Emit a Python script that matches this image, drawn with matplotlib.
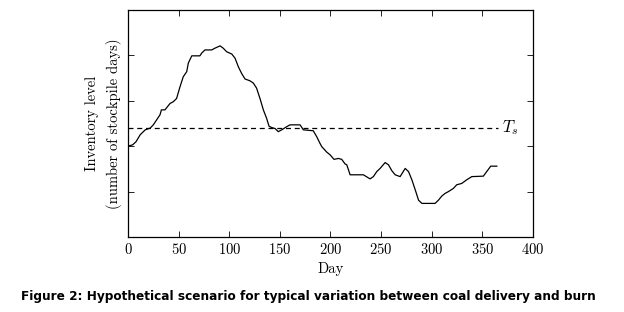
import matplotlib
matplotlib.use("Agg")
import matplotlib.pyplot as plt

plt.rcParams['font.family'] = 'cmr10'
plt.rcParams['mathtext.fontset'] = 'cm'
plt.rcParams['axes.formatter.use_mathtext'] = True

# inventory curve (day, level in stockpile days)
day = [0, 4.6, 8, 12, 17, 22, 25, 28.3, 31.6, 33, 36.5, 41.5, 44.8, 48, 51.4,
       54.6, 58, 59.6, 63, 71, 72.8, 76, 82.7, 86, 91, 94, 97.5, 102.5, 105.7,
       109, 112.3, 115.6, 120.5, 123.8, 127, 130.4, 133.7, 137, 139.3, 142,
       145.2, 148.5, 151.8, 156.8, 160, 170, 173.2, 183, 186.4, 189.7, 191.4,
       196.3, 199.6, 203.5, 207.8, 211.1, 214.4, 216.1, 219.4, 232.5, 239.1,
       242.4, 245.7, 249, 254, 257.3, 260.6, 263.9, 268.8, 273.8, 277.1, 280.4,
       283.7, 287, 290.3, 303.3, 306.6, 309.9, 313.2, 316.5, 321.4, 324.7,
       329.7, 334.6, 339.6, 351, 354.3, 358.3, 364.3]
level = [20.0, 20.3, 21, 22.5, 23.6, 24, 24.7, 25.8, 26.9, 28, 28, 29.4, 29.8,
         30.5, 33.1, 35.3, 36.4, 38.3, 39.9, 39.9, 40.5, 41.2, 41.2, 41.6, 42.1,
         41.6, 40.8, 40.3, 39.4, 37.5, 36, 34.8, 34.4, 33.9, 32.8, 30.5, 28,
         26.1, 24.4, 24.1, 23.9, 23.2, 23.6, 24.3, 24.7, 24.7, 23.6, 23.4, 22.1,
         20.6, 19.9, 18.7, 18.1, 17.1, 17.3, 17.1, 16.1, 15.9, 13.7, 13.7, 12.8,
         13.3, 14.4, 15.1, 16.4, 15.9, 14.6, 13.7, 13.3, 15.1, 14.4, 12.6, 10.4,
         8.1, 7.4, 7.4, 8.1, 9.0, 9.6, 10.0, 10.7, 11.5, 11.8, 12.6, 13.3, 13.4,
         14.4, 15.6, 15.6]

target = 24
target_end = 365
xticks = [0, 50, 100, 150, 200, 250, 300, 350, 400]
yticks = [10, 20, 30, 40]

fig = plt.figure(figsize=(6.24, 3.12), dpi=100)
ax = fig.add_axes([0.2051, 0.2404, 0.6490, 0.7276])

ax.plot(day, level, color='black', lw=0.9)
ax.plot([0, target_end], [target, target], color='black', lw=0.9,
        linestyle=(0, (4, 3)))
ax.text(378, target, '$T_s$', fontsize=12, va='center', ha='center')

ax.set_xlim(0, 400)
ax.set_ylim(0, 50)
ax.set_xticks(xticks)
ax.set_yticks(yticks)
ax.set_yticklabels([])
ax.tick_params(direction='in', top=True, right=True, length=4, width=0.6,
               labelsize=10.5)
for s in ax.spines.values():
    s.set_linewidth(0.9)

ax.set_xlabel('Day', fontsize=10.5, labelpad=4)
ax.set_ylabel('Inventory level\n(number of stockpile days)', fontsize=10.5,
              labelpad=1, linespacing=1.6)

fig.text(0.494, 0.05, 'Figure 2: Hypothetical scenario for typical variation between coal delivery and burn',
         ha='center', va='center', fontsize=8.7, fontweight='bold',
         family='DejaVu Sans')

fig.savefig('out.png', dpi=100)
